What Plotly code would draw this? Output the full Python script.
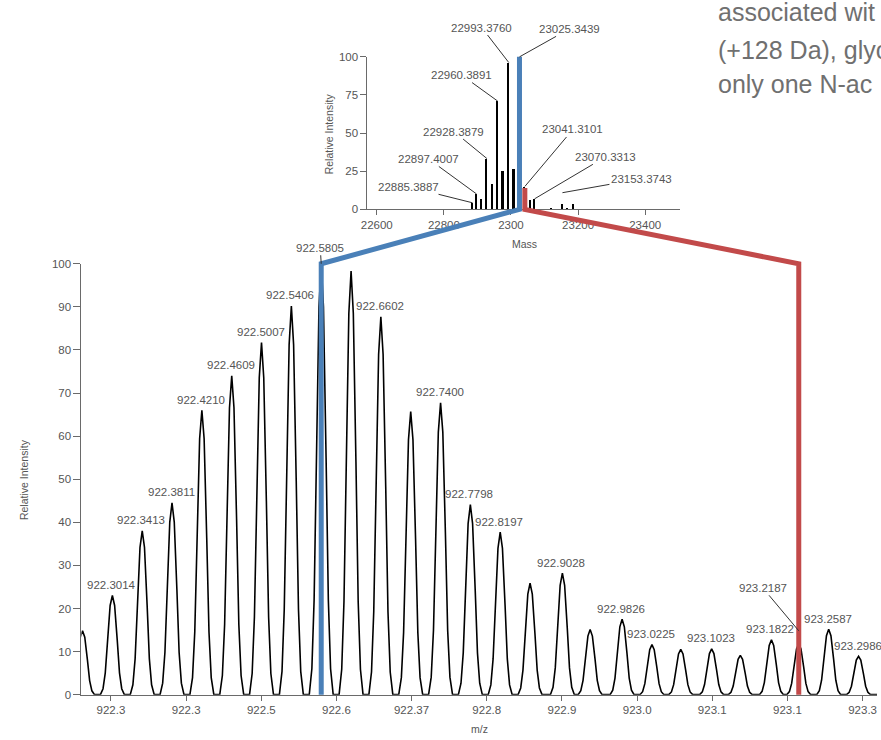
import plotly.graph_objects as go

# ---------------- data ----------------
# main spectrum (charge-state envelope): peak centroids, relative intensities, labels
peak_mz = [922.2615, 922.3014, 922.3413, 922.3811, 922.4210, 922.4609, 922.5007,
           922.5406, 922.5805, 922.6204, 922.6602, 922.7001, 922.7400, 922.7798,
           922.8197, 922.8596, 922.9028, 922.9399, 922.9826, 923.0225, 923.0610,
           923.1023, 923.1406, 923.1822, 923.2187, 923.2587, 923.2986]
peak_int = [14.8, 23.0, 38.0, 44.5, 66.0, 74.0, 81.7,
            90.2, 100.0, 98.3, 87.7, 65.7, 67.7, 44.1,
            37.7, 25.9, 28.2, 15.1, 17.5, 11.6, 10.5,
            10.6, 9.1, 12.7, 11.8, 15.2, 8.9]
peak_labels = ["", "922.3014", "922.3413", "922.3811", "922.4210", "922.4609", "922.5007",
               "922.5406", "922.5805", "", "922.6602", "", "922.7400", "922.7798",
               "922.8197", "", "922.9028", "", "922.9826", "923.0225", "",
               "923.1023", "", "923.1822", "923.2187", "923.2587", "923.2986"]

# profile peak shape (offset in m/z, fraction of apex)
shape_dmz = [-0.016, -0.0125, -0.0095, -0.0065, -0.003, 0.0, 0.003, 0.0065, 0.0095, 0.0125, 0.016]
shape_frac = [0.0, 0.06, 0.22, 0.55, 0.9, 1.0, 0.9, 0.55, 0.22, 0.06, 0.0]

main_xtick_vals = [922.2995, 922.4000, 922.5005, 922.6008, 922.7012, 922.8017,
                   922.9022, 923.0027, 923.1031, 923.2036, 923.3040]
main_xtick_text = ["922.3", "922.3", "922.5", "922.6", "922.37", "922.8",
                   "922.9", "923.0", "923.1", "923.1", "923.3"]

# deconvoluted inset
inset_mass = [22885.3887, 22897.4007, 22913, 22928.3879, 22945, 22960.3891, 22977,
              22993.3760, 23009, 23025.3439, 23041.3101, 23058, 23070.3313,
              23121, 23153.3743, 23169, 23186]
inset_int = [4.3, 10.1, 6.9, 33.3, 16.6, 71.0, 25.2,
             96.3, 26.5, 100.0, 15.0, 6.5, 6.9,
             1.1, 3.7, 1.1, 3.4]
inset_labels = ["22885.3887", "22897.4007", "", "22928.3879", "", "22960.3891", "",
                "22993.3760", "", "23025.3439", "23041.3101", "", "23070.3313",
                "", "23153.3743", "", ""]
inset_xtick_vals = [22600, 22800, 23000, 23200, 23400]
inset_xtick_text = ["22600", "22800", "2300", "23200", "23400"]
inset_ytick_vals = [0, 25, 50, 75, 100]

# highlighted species linking inset to the spectrum
hl_mass = [23025.3439, 23041.3101]
hl_inset_top = [100.0, 14.0]
hl_mz = [922.5805, 923.2187]
hl_colors = ["#4a80b8", "#c24a4a"]

side_text = ["associated wit", "(+128 Da), glyc", "only one N-ac"]

# ---------------- layout geometry ----------------
W, H = 881, 740
main_xdom = [75 / W, 877 / W]
main_ydom = [40 / H, 478 / H]
main_xrange = [922.2600, 923.3233]
main_yrange = [0, 100]
ins_xdom = [363.3 / W, 678.3 / W]
ins_ydom = [533.3 / H, 688.3 / H]
ins_xrange = [22572.2, 23503.4]
ins_yrange = [0, 100]

GREY = "#555555"
AXIS = "#6a6a6a"
FONT = "Liberation Sans, Arial, sans-serif"


def to_paper(v, dom, rng):
    return dom[0] + (v - rng[0]) / (rng[1] - rng[0]) * (dom[1] - dom[0])


# profile line built from the peak list
prof_x, prof_y = [], []
for mz, it in zip(peak_mz, peak_int):
    for d, f in zip(shape_dmz, shape_frac):
        prof_x.append(mz + d)
        prof_y.append(it * f)
prof_x.append(main_xrange[1])
prof_y.append(0)

fig = go.Figure()
fig.add_trace(go.Scatter(x=prof_x, y=prof_y, mode="lines",
                         line=dict(color="black", width=1.6),
                         xaxis="x", yaxis="y", hoverinfo="skip", showlegend=False))
fig.add_trace(go.Bar(x=inset_mass, y=inset_int, width=5.5,
                     marker=dict(color="black", line=dict(width=0)),
                     xaxis="x2", yaxis="y2", showlegend=False))

ann = []
# main peak labels
for mz, it, lab in zip(peak_mz, peak_int, peak_labels):
    if not lab:
        continue
    if lab == "922.5805":
        ann.append(dict(x=mz, y=it, xref="x", yref="y", text=lab, showarrow=True,
                        arrowhead=0, arrowwidth=1, arrowcolor="#333", ax=-1, ay=-16,
                        font=dict(size=11.5, color=GREY, family=FONT)))
    elif lab == "923.2187":
        ann.append(dict(x=mz, y=it, xref="x", yref="y", text=lab, showarrow=True,
                        arrowhead=0, arrowwidth=1, arrowcolor="#333", ax=-36, ay=-43,
                        yshift=13, font=dict(size=11.5, color=GREY, family=FONT)))
    else:
        ann.append(dict(x=mz, y=it, xref="x", yref="y", text=lab, showarrow=False,
                        xanchor="center", yanchor="bottom", yshift=2.5, xshift=-1,
                        font=dict(size=11.5, color=GREY, family=FONT)))

# inset labels with leader lines (text offset in pixels)
inset_offsets = {
    "22885.3887": (-64, -16, 0),
    "22897.4007": (-48, -35, 0),
    "22928.3879": (-33, -27, 0),
    "22960.3891": (-36, -26, 0),
    "22993.3760": (-27, -35, 0),
    "23025.3439": (50, -28, 0),
    "23041.3101": (48, -57, 0),
    "23070.3313": (71, -42, 0),
    "23153.3743": (79, -14, 11),
}
for m, it, lab in zip(inset_mass, inset_int, inset_labels):
    if not lab:
        continue
    axo, ayo, ys = inset_offsets[lab]
    ann.append(dict(x=m, y=it, xref="x2", yref="y2", text=lab, showarrow=True,
                    arrowhead=0, arrowwidth=1, arrowcolor="#333", ax=axo, ay=ayo,
                    yshift=ys, font=dict(size=11.5, color=GREY, family=FONT)))

# axis titles
title_font = dict(size=10.5, color=GREY, family=FONT)
ann += [
    dict(x=17 / W, y=(H - 481) / H, xref="paper", yref="paper", text="Relative Intensity",
         textangle=-90, showarrow=False, xanchor="center", yanchor="middle", font=title_font),
    dict(x=476 / W, y=(H - 735) / H, xref="paper", yref="paper", text="m/z",
         showarrow=False, xanchor="center", yanchor="middle", font=title_font),
    dict(x=324 / W, y=(H - 130) / H, xref="paper", yref="paper", text="Relative Intensity",
         textangle=-90, showarrow=False, xanchor="center", yanchor="middle", font=title_font),
    dict(x=522 / W, y=(H - 242) / H, xref="paper", yref="paper", text="Mass",
         showarrow=False, xanchor="center", yanchor="middle", font=title_font),
]
# side paragraph text (cut off at the figure edge, as in the source)
side_baselines = [15, 53, 87.5]
for t, base in zip(side_text, side_baselines):
    ann.append(dict(x=715 / W, y=(H - (base - 8.7)) / H, xref="paper", yref="paper",
                    text=t, showarrow=False, xanchor="left", yanchor="middle",
                    font=dict(size=25, color="#707070", family=FONT)))

# connector lines from inset to main spectrum
shapes = []
for m, top, mz, col in zip(hl_mass, hl_inset_top, hl_mz, hl_colors):
    pts = [
        (to_paper(m, ins_xdom, ins_xrange), to_paper(top, ins_ydom, ins_yrange)),
        (to_paper(m, ins_xdom, ins_xrange), to_paper(0, ins_ydom, ins_yrange)),
        (to_paper(mz, main_xdom, main_xrange), to_paper(main_yrange[1], main_ydom, main_yrange)),
        (to_paper(mz, main_xdom, main_xrange), to_paper(0, main_ydom, main_yrange)),
    ]
    path = "M " + " L ".join(f"{x:.5f},{y:.5f}" for x, y in pts)
    shapes.append(dict(type="path", path=path, xref="paper", yref="paper",
                       line=dict(color=col, width=5), layer="above"))

axis_common = dict(showline=True, linecolor=AXIS, linewidth=1, ticks="outside",
                   tickcolor=AXIS, tickwidth=1, showgrid=False, zeroline=False,
                   tickfont=dict(size=11.5, color=GREY, family=FONT))

fig.update_layout(
    width=W, height=H,
    margin=dict(l=0, r=0, t=0, b=0),
    paper_bgcolor="white", plot_bgcolor="white",
    showlegend=False,
    font=dict(family=FONT, color=GREY),
    xaxis=dict(domain=main_xdom, range=main_xrange, anchor="y", tickmode="array",
               tickvals=main_xtick_vals, ticktext=main_xtick_text, ticklen=5, **axis_common),
    yaxis=dict(domain=main_ydom, range=main_yrange, anchor="x", dtick=10, ticklen=7,
               **axis_common),
    xaxis2=dict(domain=ins_xdom, range=ins_xrange, anchor="y2", tickmode="array",
                tickvals=inset_xtick_vals, ticktext=inset_xtick_text, ticklen=5, **axis_common),
    yaxis2=dict(domain=ins_ydom, range=ins_yrange, anchor="x2", tickmode="array",
                tickvals=inset_ytick_vals, ticklen=6, **axis_common),
    annotations=ann,
    shapes=shapes,
    bargap=0,
)

# remove the default page margin so the figure sits at the window's top-left corner
fig.write_html("out.html", config={"displayModeBar": False},
               post_script="document.body.style.margin='0';")
